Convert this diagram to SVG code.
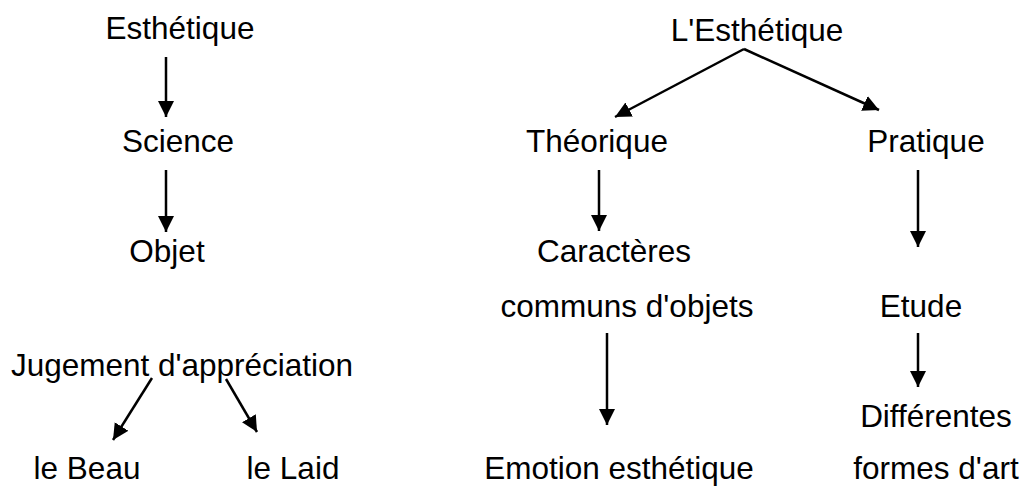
<svg xmlns="http://www.w3.org/2000/svg" width="1024" height="486" viewBox="0 0 1024 486">
<style>
text{font-family:"Liberation Sans",Arial,sans-serif;font-size:31.5px;fill:#000;text-anchor:middle}
.c line{stroke:#000;stroke-width:2.5;marker-end:url(#ah)}
</style>
<defs>
<marker id="ah" markerUnits="userSpaceOnUse" markerWidth="18" markerHeight="18" refX="16" refY="8" orient="auto">
<path d="M0,0 L16,8 L0,16 Z" fill="#000"/>
</marker>
</defs>
<rect width="1024" height="486" fill="#fff"/>
<g id="n-esthetique"><text x="180" y="39">Esthétique</text></g>
<g id="n-science"><text x="178" y="152">Science</text></g>
<g id="n-objet"><text x="167" y="262">Objet</text></g>
<g id="n-jugement"><text x="182" y="376">Jugement d'appréciation</text></g>
<g id="n-beau"><text x="87" y="479">le Beau</text></g>
<g id="n-laid"><text x="293" y="479">le Laid</text></g>
<g id="n-lesthetique"><text x="757" y="41">L'Esthétique</text></g>
<g id="n-theorique"><text x="597" y="152">Théorique</text></g>
<g id="n-pratique"><text x="926" y="152">Pratique</text></g>
<g id="n-caracteres"><text x="614" y="262">Caractères</text><text x="627" y="317">communs d'objets</text></g>
<g id="n-emotion"><text x="619" y="479">Emotion esthétique</text></g>
<g id="n-etude"><text x="921" y="317">Etude</text></g>
<g id="n-formes"><text x="936" y="427">Différentes</text><text x="936" y="479">formes d'art</text></g>
<g class="c" id="connectors">
<line x1="166" y1="57" x2="166" y2="117"/>
<line x1="166" y1="170" x2="166" y2="232"/>
<line x1="152" y1="378" x2="113" y2="440"/>
<line x1="226" y1="379" x2="257" y2="432"/>
<line x1="744" y1="49" x2="615" y2="117"/>
<line x1="744" y1="49" x2="879" y2="110"/>
<line x1="599" y1="170" x2="599" y2="231"/>
<line x1="607" y1="333" x2="607" y2="425"/>
<line x1="918" y1="170" x2="918" y2="247"/>
<line x1="918" y1="333" x2="918" y2="387"/>
</g>
</svg>
